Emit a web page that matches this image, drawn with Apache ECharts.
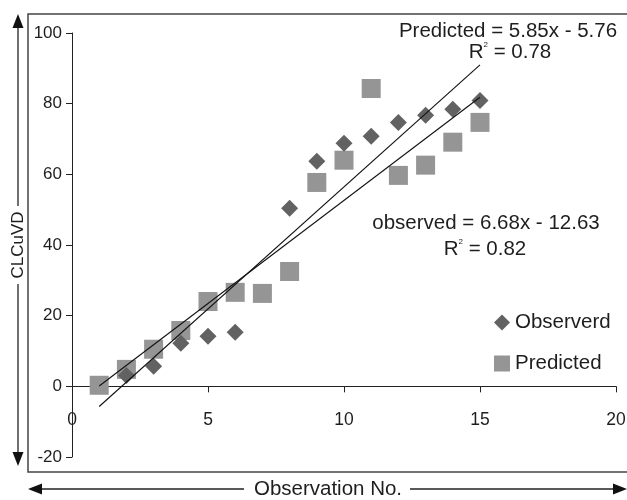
<!DOCTYPE html>
<html><head><meta charset="utf-8">
<script src="https://cdn.jsdelivr.net/npm/echarts@6/dist/echarts.min.js"></script>
<style>html,body{margin:0;padding:0;background:#fff}#c{width:627px;height:500px}</style>
</head><body><div id="c"></div>
<script>
// Observed (diamonds)
const observedX = [2, 3, 4, 5, 6, 8, 9, 10, 11, 12, 13, 14, 15];
const observedY = [3.1, 5.7, 12.2, 14.2, 15.3, 50.4, 63.7, 68.8, 70.8, 74.7, 76.7, 78.4, 80.9];
// Predicted (squares)
const predictedX = [1, 2, 3, 4, 5, 6, 7, 8, 9, 10, 11, 12, 13, 14, 15];
const predictedY = [0.3, 4.8, 10.5, 15.8, 24.0, 26.6, 26.3, 32.5, 57.7, 64.0, 84.3, 59.7, 62.6, 69.1, 74.7];
// Trend line end points
const observedFitX = [1, 15];
const observedFitY = [-5.7, 91.0];
const predictedFitX = [1, 15];
const predictedFitY = [0.1, 81.8];
// Axis ranges
const xMin = 0, xMax = 20, xStep = 5;
const yMin = -20, yMax = 100, yStep = 20;
// Texts
const seriesNames = ['Observerd', 'Predicted'];
const yTitle = 'CLCuVD';
const xTitle = 'Observation No.';
const eqPredicted = ['Predicted = 5.85x - 5.76', '0.78'];
const eqObserved = ['observed = 6.68x - 12.63', '0.82'];

const zip = (xs, ys) => xs.map((x, i) => [x, ys[i]]);
const FONT = '"Liberation Sans", Arial, Helvetica, sans-serif';
const TXT = '#1e1e1e';

const chart = echarts.init(document.getElementById('c'), null, {renderer: 'canvas'});

function r2Text(val, x, y) {
  return {
    type: 'text', x: x, y: y, z: 10,
    style: {
      text: '{r|R}{s|2}{r| = ' + val + '}',
      align: 'center', verticalAlign: 'middle',
      rich: {
        r: {fontSize: 20.5, fontFamily: FONT, fill: TXT, verticalAlign: 'bottom', lineHeight: 22},
        s: {fontSize: 8, fontFamily: FONT, fill: TXT, verticalAlign: 'top', lineHeight: 22}
      }
    }
  };
}

chart.setOption({
  animation: false,
  backgroundColor: '#fff',
  grid: {left: 72, right: 11, top: 33, bottom: 43, containLabel: false, outerBoundsMode: 'none'},
  xAxis: {
    type: 'value', min: xMin, max: xMax, interval: xStep,
    axisLine: {show: true, onZero: true, lineStyle: {color: '#222', width: 1}},
    axisTick: {show: true, length: 6, lineStyle: {color: '#222'}},
    splitLine: {show: false},
    axisLabel: {margin: -46, fontSize: 17.5, fontFamily: FONT, color: TXT}
  },
  yAxis: {
    type: 'value', min: yMin, max: yMax, interval: yStep,
    axisLine: {show: true, onZero: false, lineStyle: {color: '#222', width: 1}},
    axisTick: {show: true, length: 6, lineStyle: {color: '#222'}},
    splitLine: {show: false},
    axisLabel: {margin: 10, fontSize: 17, fontFamily: FONT, color: TXT}
  },
  legend: {
    data: [{name: seriesNames[0], icon: 'diamond'}, {name: seriesNames[1], icon: 'rect'}],
    orient: 'vertical', left: 489, top: 307, itemWidth: 16, itemHeight: 16, itemGap: 20,
    textStyle: {fontSize: 20.5, fontFamily: FONT, color: TXT},
    selectedMode: false
  },
  series: [
    {
      name: seriesNames[1], type: 'scatter', symbol: 'rect', symbolSize: 19,
      itemStyle: {color: '#959595', opacity: 1}, z: 2,
      data: zip(predictedX, predictedY)
    },
    {
      name: seriesNames[0], type: 'scatter', symbol: 'diamond', symbolSize: 17,
      itemStyle: {color: '#626262', opacity: 1}, z: 3,
      data: zip(observedX, observedY)
    },
    {
      name: 'obsFit', type: 'line', symbol: 'none', silent: true, z: 5,
      lineStyle: {color: '#111', width: 1.1},
      data: zip(observedFitX, observedFitY)
    },
    {
      name: 'predFit', type: 'line', symbol: 'none', silent: true, z: 5,
      lineStyle: {color: '#111', width: 1.1},
      data: zip(predictedFitX, predictedFitY)
    }
  ],
  graphic: [
    {type: 'rect', shape: {x: 28, y: 14, width: 610, height: 458}, style: {fill: 'none', stroke: '#444', lineWidth: 1.5}, z: 1, silent: true},
    // vertical arrow
    {type: 'line', shape: {x1: 18, y1: 26, x2: 18, y2: 206}, style: {stroke: '#222', lineWidth: 1.3}},
    {type: 'line', shape: {x1: 18, y1: 284, x2: 18, y2: 454}, style: {stroke: '#222', lineWidth: 1.3}},
    {type: 'polygon', shape: {points: [[18, 14], [12.5, 28], [23.5, 28]]}, style: {fill: '#111'}},
    {type: 'polygon', shape: {points: [[18, 466], [12.5, 452], [23.5, 452]]}, style: {fill: '#111'}},
    {type: 'text', x: 18, y: 245, rotation: Math.PI / 2,
      style: {text: yTitle, fontSize: 17, fontFamily: FONT, fill: TXT, align: 'center', verticalAlign: 'middle'}},
    // horizontal arrow
    {type: 'line', shape: {x1: 40, y1: 489, x2: 244, y2: 489}, style: {stroke: '#222', lineWidth: 1.3}},
    {type: 'line', shape: {x1: 410, y1: 489, x2: 615, y2: 489}, style: {stroke: '#222', lineWidth: 1.3}},
    {type: 'polygon', shape: {points: [[28, 489], [42, 483.5], [42, 494.5]]}, style: {fill: '#111'}},
    {type: 'polygon', shape: {points: [[627, 489], [613, 483.5], [613, 494.5]]}, style: {fill: '#111'}},
    {type: 'text', x: 328, y: 489,
      style: {text: xTitle, fontSize: 20.5, fontFamily: FONT, fill: TXT, align: 'center', verticalAlign: 'middle'}},
    // equations
    {type: 'text', x: 508, y: 31, z: 10,
      style: {text: eqPredicted[0], fontSize: 20.5, fontFamily: FONT, fill: TXT, align: 'center', verticalAlign: 'middle'}},
    r2Text(eqPredicted[1], 510, 52),
    {type: 'text', x: 486, y: 223, z: 10,
      style: {text: eqObserved[0], fontSize: 20.5, fontFamily: FONT, fill: TXT, align: 'center', verticalAlign: 'middle'}},
    r2Text(eqObserved[1], 485, 249)
  ]
});
</script>
</body></html>
